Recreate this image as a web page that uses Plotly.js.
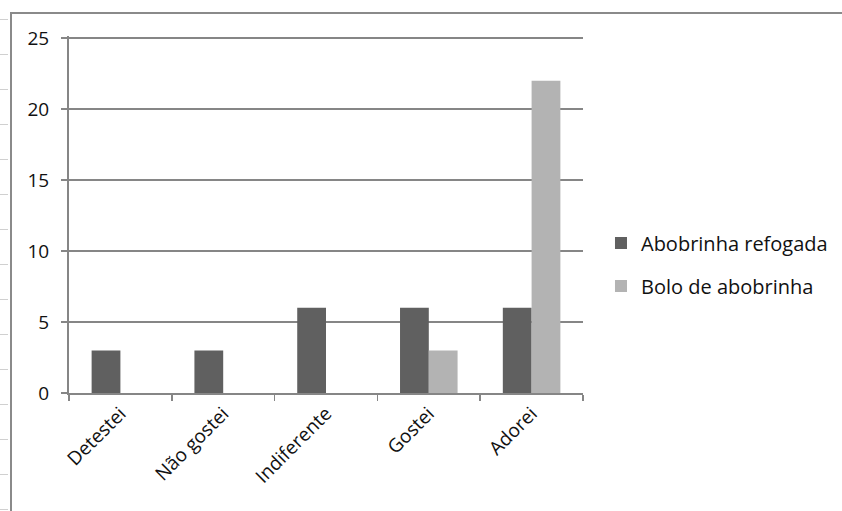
<!DOCTYPE html>
<html>
<head>
<meta charset="utf-8">
<script src="https://cdn.plot.ly/plotly-3.0.1.min.js"></script>
<style>
html,body{margin:0;padding:0;background:#fff;}
#wrap{position:relative;width:842px;height:511px;overflow:hidden;}
#chart{position:absolute;left:0;top:0;width:842px;height:511px;}
#frame{position:absolute;left:10px;top:12px;right:-5px;bottom:-5px;border-left:2px solid #8a8a8a;border-top:2px solid #8a8a8a;pointer-events:none;}
#rows{position:absolute;left:0;top:0;width:8px;height:511px;pointer-events:none;
 background:repeating-linear-gradient(to bottom, transparent 0px, transparent 19px, #d0d0d0 19px, #d0d0d0 20px, transparent 20px, transparent 35px);background-position:0 0;}
</style>
</head>
<body>
<div id="wrap">
<div id="chart"></div>
<div id="rows"></div>
<div id="frame"></div>
</div>
<script>
const categories = ["Detestei", "Não gostei", "Indiferente", "Gostei", "Adorei"];
const refogada = [3, 3, 6, 6, 6];
const bolo = [0, 0, 0, 3, 22];
const seriesNames = ["Abobrinha refogada", "Bolo de abobrinha"];
const yTicks = [0, 5, 10, 15, 20, 25];

const tickFont = {family: "Open Sans, sans-serif", size: 19, color: "#111111"};
const legendFont = {family: "Open Sans, sans-serif", size: 20, color: "#111111"};

const traces = [
  {type: "bar", x: categories, y: refogada, name: seriesNames[0], legendgroup: "a",
   marker: {color: "#606060", line: {width: 0}}},
  {type: "bar", x: categories, y: bolo, name: seriesNames[1], legendgroup: "b",
   marker: {color: "#b3b3b3", line: {width: 0}}}
];

const layout = {
  width: 842, height: 511,
  margin: {l: 69, r: 259, t: 36, b: 118, autoexpand: false},
  paper_bgcolor: "#ffffff", plot_bgcolor: "#ffffff",
  font: tickFont,
  barmode: "group", bargap: 0.44, bargroupgap: 0,
  showlegend: true,
  legend: {x: 1.035, y: 0.36, xanchor: "left", yanchor: "middle", font: legendFont,
           tracegroupgap: 14, itemwidth: 30, bgcolor: "rgba(0,0,0,0)"},
  xaxis: {type: "category", showgrid: false, showline: true, linecolor: "#868686", linewidth: 2,
          ticks: "outside", tickson: "boundaries", ticklen: 6, tickcolor: "#868686", tickwidth: 1.5,
          tickangle: -45, tickfont: tickFont, fixedrange: true},
  yaxis: {range: [0, 25.15], tickvals: yTicks, showgrid: true, gridcolor: "#868686", gridwidth: 1.5,
          showline: true, linecolor: "#868686", linewidth: 2, zeroline: false,
          ticks: "outside", ticklen: 6, tickcolor: "#868686", tickwidth: 1.5, tickfont: tickFont,
          ticklabelstandoff: 8, fixedrange: true}
};

Plotly.newPlot("chart", traces, layout, {displayModeBar: false, staticPlot: true});
</script>
</body>
</html>
